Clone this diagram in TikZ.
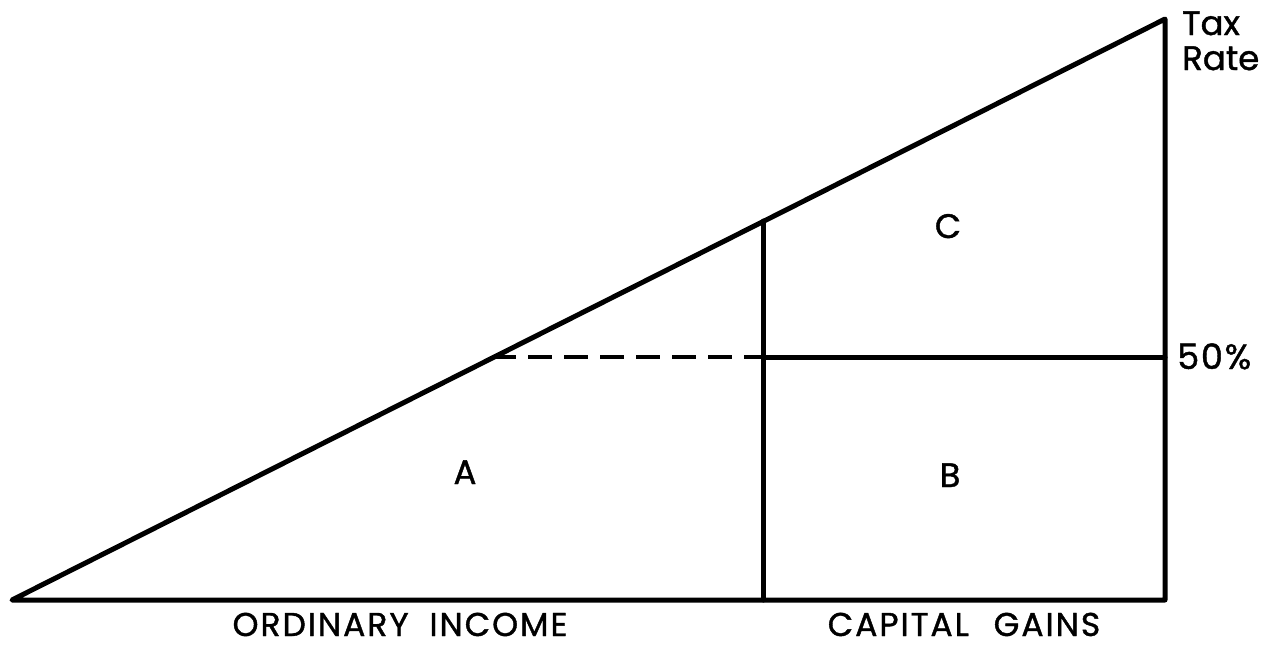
\documentclass[tikz,border=0pt]{standalone}
\usepackage{fontspec}
\setmainfont{Poppins}
\begin{document}
\begin{tikzpicture}[x=1pt,y=-1pt,
  thick line/.style={line width=5pt,line cap=round,line join=round},
  lbl/.style={font=\fontsize{34}{36}\selectfont\addfontfeature{FakeBold=1.2},inner sep=0pt,anchor=base},
  axis lbl/.style={font=\fontsize{33}{35}\selectfont\addfontfeature{LetterSpace=6,FakeBold=1.2},inner sep=0pt,anchor=base}]
\useasboundingbox (0,0) rectangle (1273,649);
\coordinate (O) at (12,600);
\coordinate (R) at (1165,600);
\coordinate (T) at (1165,19);
\coordinate (M) at (763,600);
\coordinate (MT) at (763,221);
\coordinate (H) at (1165,357);
\coordinate (MH) at (763,357);
\coordinate (D) at (492,357);
\draw[thick line] (O) -- (R) -- (T) -- cycle;
\draw[thick line] (M) -- (MT);
\draw[thick line] (MH) -- (H);
\draw[line width=4pt,dash pattern=on 24pt off 12pt] (D) -- (MH);
\node[lbl] (A) at (465,484) {A};
\node[lbl] (B) at (950,487) {B};
\node[lbl] (C) at (948,238) {C};
\node[lbl,anchor=base west,font=\fontsize{35}{37}\selectfont\addfontfeature{LetterSpace=5,FakeBold=1.2}] (p50) at (1177,369) {50\%};
\node[lbl,anchor=base west,font=\fontsize{34}{36}\selectfont\addfontfeature{FakeBold=1.2}] (tax) at (1182,35) {Tax};
\node[lbl,anchor=base west,font=\fontsize{34}{36}\selectfont\addfontfeature{FakeBold=1.2}] (rate) at (1182,70) {Rate};
\node[axis lbl] (oi) at (400,636) {ORDINARY\hspace{10pt} INCOME};
\node[axis lbl] (cg) at (964,636) {CAPITAL\hspace{14pt} GAINS};
\end{tikzpicture}
\end{document}
